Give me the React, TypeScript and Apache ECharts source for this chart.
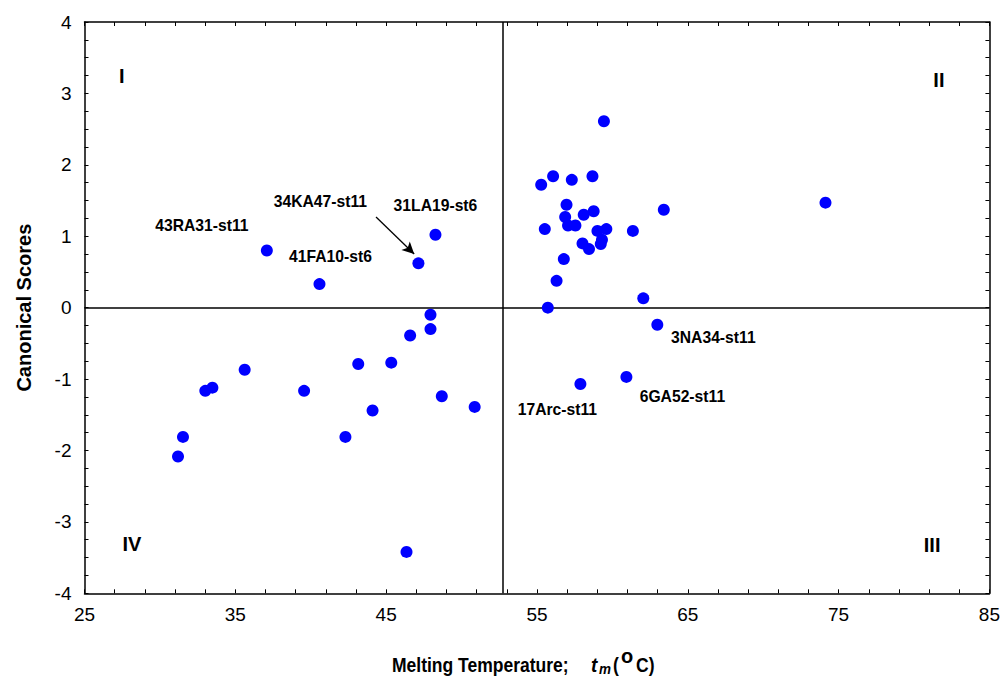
import React, { useEffect, useRef } from "react";
import * as echarts from "echarts";

// Melting temperature (°C) and canonical scores
const tmValues = [
  37.09, 40.58, 47.14, 48.27,
  47.94, 47.94, 46.59, 43.15, 45.34, 35.62, 33.01, 33.48, 39.56, 48.69, 50.87, 44.1, 31.53, 31.2, 42.3, 46.35,
  59.44, 55.28, 56.07, 57.31, 58.68, 56.96, 56.87, 58.1, 58.76, 57.06, 57.55, 55.52, 59.01, 59.6, 61.36, 63.41,
  74.13, 58.02, 58.45, 59.31, 59.23, 56.78, 56.3, 62.05, 55.72, 62.98, 57.88, 60.93,
];
const scoreValues = [
  0.8, 0.33, 0.62, 1.02,
  -0.1, -0.3, -0.39, -0.79, -0.77, -0.87, -1.165, -1.12, -1.165, -1.24, -1.39, -1.44, -1.81, -2.085, -1.81, -3.42,
  2.61, 1.72, 1.84, 1.79, 1.84, 1.44, 1.27, 1.3, 1.35, 1.15, 1.15, 1.1, 1.075, 1.1, 1.075, 1.37,
  1.47, 0.9, 0.82, 0.95, 0.89, 0.68, 0.375, 0.13, 0.0, -0.24, -1.07, -0.97,
];
// Named strains (index into the arrays above) and their label offsets
const labelIndex = [0, 1, 2, 3, 45, 47, 46];
const labelNames = ["43RA31-st11", "41FA10-st6", "34KA47-st11", "31LA19-st6", "3NA34-st11", "6GA52-st11", "17Arc-st11"];
const labelOffsets = [[-65, -25], [11, -28], [-98, -62], [0, -29], [56, 13], [56, 20], [-23, 25]];

const dividerTm = 52.7;
const dividerScore = 0;
const arrowFrom = [44.33, 1.27];
const arrowTo = [46.86, 0.75];

const quadrantLabels = ["I", "II", "III", "IV"];
const quadrantCoords = [[27.48, 3.25], [81.65, 3.19], [81.2, -3.33], [28.14, -3.31]];

const FONT = "'Liberation Sans', Arial, sans-serif";

export default function App() {
  const ref = useRef<HTMLDivElement>(null);
  useEffect(() => {
    if (!ref.current) return;
    const chart = echarts.init(ref.current, undefined, { renderer: "svg" });
    const data = tmValues.map((x, i) => {
      const li = labelIndex.indexOf(i);
      const item: any = { value: [x, scoreValues[i]], name: li >= 0 ? labelNames[li] : "" };
      if (li >= 0) {
        item.label = {
          show: true,
          formatter: labelNames[li],
          position: "inside",
          offset: labelOffsets[li],
          color: "#000",
          fontWeight: "bold",
          fontSize: 15.7,
          fontFamily: FONT,
        };
      }
      return item;
    });
    const axisCommon = {
      type: "value",
      axisLine: { show: true, onZero: false, lineStyle: { color: "#000", width: 1.5 } },
      axisTick: { show: true, inside: true, length: 4, lineStyle: { color: "#000", width: 1 } },
      minorTick: { show: true, length: 4, lineStyle: { color: "#000", width: 1 } },
      splitLine: { show: false },
    };
    const tickLabel = { color: "#000", fontSize: 19, fontFamily: FONT };
    chart.setOption({
      animation: false,
      backgroundColor: "#fff",
      grid: { left: 84.5, top: 22, right: 11.3, bottom: 83.7, containLabel: false },
      xAxis: [
        {
          ...axisCommon,
          position: "bottom",
          min: 25,
          max: 85,
          interval: 10,
          minorTick: { ...axisCommon.minorTick, splitNumber: 5 },
          axisLabel: { ...tickLabel, margin: 12 },
        },
        {
          ...axisCommon,
          position: "top",
          min: 25,
          max: 85,
          interval: 10,
          minorTick: { ...axisCommon.minorTick, splitNumber: 5 },
          axisLabel: { show: false },
        },
      ],
      yAxis: [
        {
          ...axisCommon,
          position: "left",
          min: -4,
          max: 4,
          interval: 1,
          minorTick: { ...axisCommon.minorTick, splitNumber: 4 },
          axisLabel: { ...tickLabel, margin: 13 },
          name: "Canonical Scores",
          nameLocation: "middle",
          nameGap: 51,
          nameTextStyle: { color: "#000", fontSize: 20, fontWeight: "bold", fontFamily: FONT },
        },
        {
          ...axisCommon,
          position: "right",
          min: -4,
          max: 4,
          interval: 1,
          minorTick: { ...axisCommon.minorTick, splitNumber: 4 },
          axisLabel: { show: false },
        },
      ],
      series: [
        {
          type: "scatter",
          symbol: "circle",
          symbolSize: 12,
          itemStyle: { color: "#0000FF", opacity: 1 },
          label: { show: false },
          data,
          z: 5,
          markLine: {
            silent: true,
            symbol: "none",
            animation: false,
            label: { show: false },
            lineStyle: { color: "#000", width: 1.5, type: "solid", opacity: 1 },
            data: [
              { xAxis: dividerTm },
              { yAxis: dividerScore },
              [
                { coord: arrowFrom, symbol: "none", lineStyle: { width: 1.3 } },
                { coord: arrowTo, symbol: "arrow", symbolSize: [9, 12] },
              ],
            ],
          },
          markPoint: {
            silent: true,
            symbol: "circle",
            symbolSize: 1,
            itemStyle: { color: "transparent" },
            label: {
              show: true,
              color: "#000",
              fontWeight: "bold",
              fontSize: 20,
              fontFamily: FONT,
              position: "inside",
              formatter: (p: any) => p.name,
            },
            data: quadrantLabels.map((n, i) => ({ name: n, coord: quadrantCoords[i] })),
          },
        },
      ],
      graphic: [
        {
          type: "group",
          children: [
            { type: "text", x: 392, y: 665, scaleX: 0.875, style: { text: "Melting Temperature;", font: `bold 20px ${FONT}`, fill: "#000", textVerticalAlign: "middle" } },
            { type: "text", x: 591, y: 665, scaleX: 0.9, style: { text: "t", font: `italic bold 21px ${FONT}`, fill: "#000", textVerticalAlign: "middle" } },
            { type: "text", x: 599, y: 669, scaleX: 0.9, style: { text: "m", font: `italic bold 15px ${FONT}`, fill: "#000", textVerticalAlign: "middle" } },
            { type: "text", x: 613, y: 665, scaleX: 0.875, style: { text: "(", font: `bold 20px ${FONT}`, fill: "#000", textVerticalAlign: "middle" } },
            { type: "text", x: 621, y: 656, style: { text: "o", font: `bold 20px ${FONT}`, fill: "#000", textVerticalAlign: "middle" } },
            { type: "text", x: 636, y: 665, scaleX: 0.875, style: { text: "C)", font: `bold 20px ${FONT}`, fill: "#000", textVerticalAlign: "middle" } },
          ],
        },
      ],
    });
    return () => chart.dispose();
  }, []);
  return <div ref={ref} style={{ width: 1003, height: 677, position: "absolute", left: 0, top: 0 }} />;
}
